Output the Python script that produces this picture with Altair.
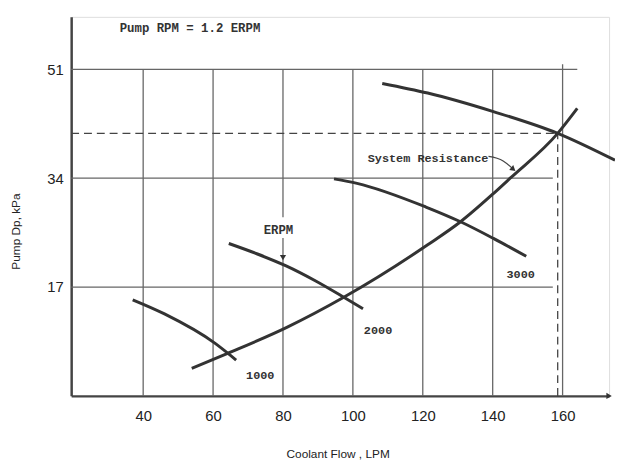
import altair as alt
import pandas as pd

# ---- data ----
X_MIN, X_MAX = 19.4, 173.3
Y_MIN, Y_MAX = 0.0, 59.2

x_ticks = [40, 60, 80, 100, 120, 140, 160]
y_ticks = [17, 34, 51]

c1000_x = [37.0, 46.1, 60.6, 66.6]
c1000_y = [15.0, 12.8, 8.2, 5.6]
c2000_x = [64.5, 72.5, 80.9, 89.5, 97.4, 102.9]
c2000_y = [23.8, 22.2, 20.3, 17.9, 15.4, 13.6]
c3000_x = [94.6, 101.2, 120.9, 130.8, 140.2, 149.6]
c3000_y = [33.9, 33.2, 29.5, 27.2, 24.6, 21.8]
pump_x = [108.4, 121.4, 140.2, 158.6, 175.0]
pump_y = [48.8, 47.3, 44.4, 41.0, 36.8]
sys_x = [53.9, 64.0, 81.1, 97.4, 121.4, 130.8, 140.2, 145.0, 158.6, 164.2]
sys_y = [4.3, 6.6, 10.7, 15.4, 23.6, 27.2, 31.6, 34.0, 41.0, 44.9]

op_x, op_y = 158.6, 41.0

# grid segments (x, x2, y, y2)
grid_x = [X_MIN, X_MIN, X_MIN, 40, 60, 80, 80, 100, 120, 140, 160]
grid_x2 = [164.2, 157.2, 157.2, 40, 60, 80, 80, 100, 120, 140, 160]
grid_y = [51, 34, 17, 0, 0, 0, 27.9, 0, 0, 0, 0]
grid_y2 = [51, 34, 17, 51, 51, 24.65, 51, 51, 51, 51, 51.8]

label_text = ["Pump RPM = 1.2 ERPM", "ERPM", "System Resistance", "1000", "2000", "3000"]
label_x = [53.4, 78.7, 121.5, 73.5, 107.2, 148.0]
label_y = [57.5, 25.9, 37.1, 3.2, 10.3, 19.1]
label_size = [12.5, 12.5, 12, 12, 12, 12]

sys_arrow_x = [138.8, 143.0, 145.9]
sys_arrow_y = [37.4, 36.7, 35.4]

# ---- tables ----
curves = pd.concat([
    pd.DataFrame({"curve": "1000", "x": c1000_x, "y": c1000_y}),
    pd.DataFrame({"curve": "2000", "x": c2000_x, "y": c2000_y}),
    pd.DataFrame({"curve": "3000", "x": c3000_x, "y": c3000_y}),
    pd.DataFrame({"curve": "pump", "x": pump_x, "y": pump_y}),
    pd.DataFrame({"curve": "system", "x": sys_x, "y": sys_y}),
], ignore_index=True)
grid = pd.DataFrame({"x": grid_x, "x2": grid_x2, "y": grid_y, "y2": grid_y2})
dashed = pd.DataFrame({"x": [X_MIN, op_x], "x2": [op_x, op_x], "y": [op_y, 0], "y2": [op_y, op_y]})
labels = pd.DataFrame({"text": label_text, "x": label_x, "y": label_y, "size": label_size})
arrow = pd.DataFrame({"x": sys_arrow_x, "y": sys_arrow_y})

xs = alt.Scale(domain=[X_MIN, X_MAX], nice=False, zero=False)
ys = alt.Scale(domain=[Y_MIN, Y_MAX], nice=False, zero=False)

NUM_FONT = "Liberation Sans, Arial"
TYPE_FONT = "Liberation Mono, DejaVu Sans Mono, monospace"

base_x = alt.X("x:Q", scale=xs, axis=alt.Axis(
    values=x_ticks, title="Coolant Flow , LPM", grid=False, ticks=False,
    domainColor="#444", domainWidth=2.5, labelFont=NUM_FONT, labelFontSize=15,
    labelColor="#222", labelPadding=13, titleFont="Liberation Sans, Arial",
    titleFontSize=12, titleFontWeight="normal", titleColor="#222",
    titleX=270, titleY=58, titleBaseline="middle", titleAlign="center"))
base_y = alt.Y("y:Q", scale=ys, axis=alt.Axis(
    values=y_ticks, title="Pump Dp, kPa", grid=False, ticks=False,
    domainColor="#444", domainWidth=2.5, labelFont=NUM_FONT, labelFontSize=15,
    labelColor="#222", labelPadding=8, titleFont="Liberation Sans, Arial",
    titleFontSize=12, titleFontWeight="normal", titleColor="#222",
    titleX=-56, titleY=217, titleAngle=270, titleBaseline="middle", titleAlign="center"))

grid_layer = alt.Chart(grid).mark_rule(color="#666", strokeWidth=1.3).encode(
    x=base_x, x2="x2:Q", y=base_y, y2="y2:Q")

dash_layer = alt.Chart(dashed).mark_rule(color="#444", strokeWidth=1.3, strokeDash=[8, 5]).encode(
    x=alt.X("x:Q", scale=xs), x2="x2:Q", y=alt.Y("y:Q", scale=ys), y2="y2:Q")

curve_layer = alt.Chart(curves).mark_line(color="#333", strokeWidth=3, interpolate="monotone", clip=False).encode(
    x=alt.X("x:Q", scale=xs), y=alt.Y("y:Q", scale=ys), detail="curve:N")

arrow_layer = alt.Chart(arrow).mark_line(color="#444", strokeWidth=1.2, interpolate="monotone").encode(
    x=alt.X("x:Q", scale=xs), y=alt.Y("y:Q", scale=ys))

heads = pd.DataFrame({"x": [sys_arrow_x[-1], 80, X_MAX], "y": [sys_arrow_y[-1], 21.6, 0],
                      "ang": [40, 90, 0]})
head_layer = alt.Chart(heads).mark_point(shape="triangle-right", filled=True, color="#333", size=40, opacity=1).encode(
    x=alt.X("x:Q", scale=xs), y=alt.Y("y:Q", scale=ys), angle=alt.Angle("ang:Q", scale=None))

text_layer = alt.Chart(labels).mark_text(font=TYPE_FONT, fontWeight="bold", color="#333",
                                         align="center", baseline="middle").encode(
    x=alt.X("x:Q", scale=xs), y=alt.Y("y:Q", scale=ys), text="text:N",
    size=alt.Size("size:Q", scale=None))

chart = alt.layer(grid_layer, dash_layer, curve_layer, arrow_layer, head_layer, text_layer).properties(
    width=545, height=384, autosize=alt.AutoSizeParams(type="none"),
    padding={"left": 64, "top": 6, "right": 6, "bottom": 64},
).configure_view(stroke=None).configure(background="white")

chart.save("out.html", embed_options={"renderer": "svg", "actions": False})
